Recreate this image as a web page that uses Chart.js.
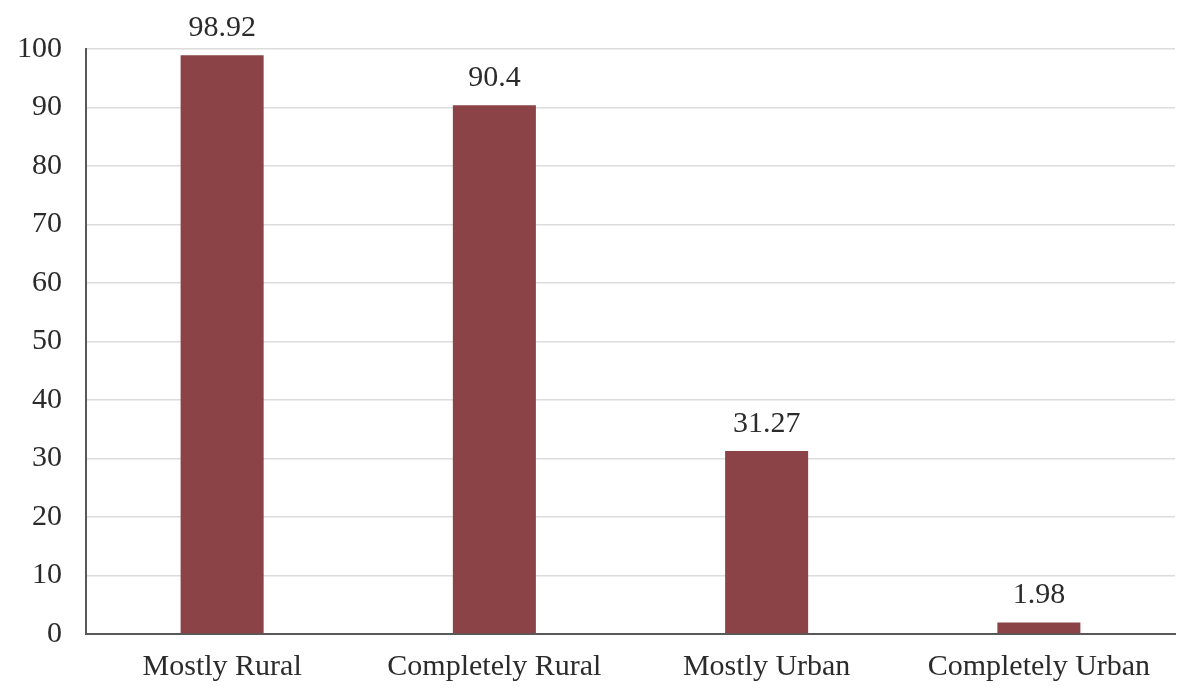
<!DOCTYPE html>
<html>
<head>
<meta charset="utf-8">
<script src="https://cdn.jsdelivr.net/npm/chart.js@4"></script>
<style>
  html, body { margin: 0; padding: 0; background: #fff; }
  #wrap { width: 1182px; height: 691px; position: relative; }
</style>
</head>
<body>
<div id="wrap"><canvas id="chart"></canvas></div>
<script>
const categories = ['Mostly Rural', 'Completely Rural', 'Mostly Urban', 'Completely Urban']
const values = [98.92, 90.4, 31.27, 1.98]
const valueLabels = ['98.92', '90.4', '31.27', '1.98']

// draws the value above each bar
const barLabels = {
    id: 'barLabels',
    afterDatasetsDraw(chart) {
        const ctx = chart.ctx
        const meta = chart.getDatasetMeta(0)
        ctx.save()
        ctx.font = '30px "Liberation Serif", "Times New Roman", serif'
        ctx.fillStyle = '#2b2b2b'
        ctx.textAlign = 'center'
        ctx.textBaseline = 'alphabetic'
        meta.data.forEach((bar, i) => {
            ctx.fillText(valueLabels[i], bar.x, bar.y - 19)
        })
        ctx.restore()
    }
}

const font = { family: '"Liberation Serif", "Times New Roman", serif', size: 30 }

new Chart(document.getElementById('chart'), {
    type: 'bar',
    data: {
        labels: categories,
        datasets: [{
            data: values,
            backgroundColor: '#8b4347',
            categoryPercentage: 1,
            barPercentage: 0.305
        }]
    },
    options: {
        responsive: true,
        maintainAspectRatio: false,
        animation: false,
        layout: { padding: { top: 49, right: 7, bottom: 0, left: 0 } },
        plugins: { legend: { display: false }, tooltip: { enabled: false } },
        scales: {
            x: {
                grid: { display: false },
                border: { color: '#595959', width: 2 },
                ticks: { color: '#2b2b2b', font: font, padding: 7 },
                afterFit(scale) { scale.height = 57 }
            },
            y: {
                min: 0,
                max: 100,
                ticks: { stepSize: 10, color: '#2b2b2b', font: font, padding: 24 },
                grid: { color: '#dcdcdc', lineWidth: 1.5, drawTicks: false },
                border: { color: '#595959', width: 2 },
                afterFit(scale) { scale.width = 86 }
            }
        }
    },
    plugins: [barLabels]
})
</script>
</body>
</html>
